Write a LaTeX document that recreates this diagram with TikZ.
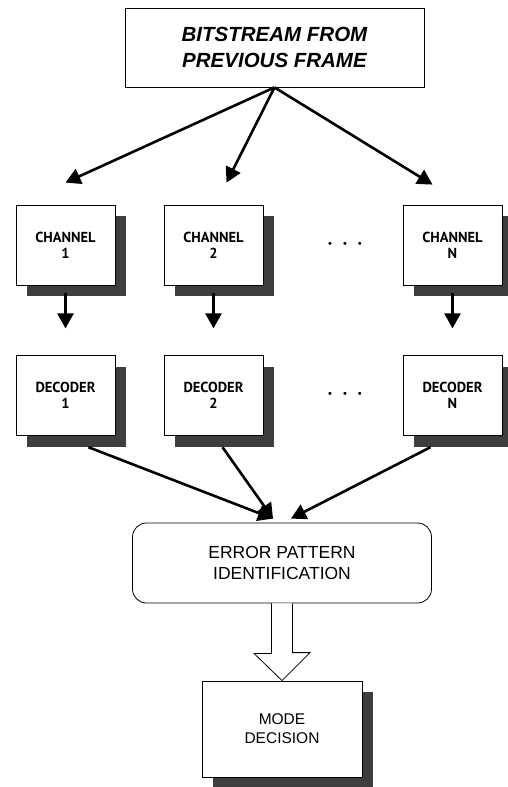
\documentclass[tikz,border=0pt]{standalone}
\usepackage{fontspec}
\setmainfont{Liberation Sans}
\newfontfamily\unitfont{PT Sans}
\usetikzlibrary{arrows.meta, positioning, shadows}
\definecolor{shadowgray}{RGB}{62, 62, 62}

\begin{document}
\begin{tikzpicture}[x=1pt, y=1pt,
    block/.style={rectangle, draw=black, fill=white, line width=0.8pt, align=center, inner sep=0pt},
    boxshadow/.style={drop shadow={shadow xshift=11pt, shadow yshift=-11pt, fill=shadowgray, opacity=1}},
    unit/.style={block, boxshadow, minimum width=99pt, minimum height=80pt, font=\unitfont\bfseries\fontsize{14.5}{16}\selectfont},
    line/.style={draw, line width=2.6pt, -{Triangle[length=15pt, width=16pt]}}]
    \useasboundingbox (0,0) rectangle (508,-787);

    \node [block, minimum width=299pt, minimum height=79pt, font=\bfseries\itshape\fontsize{20.5}{26}\selectfont] (bits) at (274.5,-47.5) {BITSTREAM FROM\\PREVIOUS FRAME};

    \node [unit] (ch1) at (65.5,-245) {CHANNEL\\1};
    \node [unit] (ch2) at (213.5,-245) {CHANNEL\\2};
    \node [unit] (chn) at (452.5,-245) {CHANNEL\\N};
    \node [font=\fontsize{11}{11}\selectfont] (dots1) at (345,-245) {\textbullet\hspace{11pt}\textbullet\hspace{11pt}\textbullet};

    \node [unit, below=70pt of ch1] (dec1) {DECODER\\1};
    \node [unit, below=70pt of ch2] (dec2) {DECODER\\2};
    \node [unit, below=70pt of chn] (decn) {DECODER\\N};
    \node [font=\fontsize{11}{11}\selectfont] (dots2) at (345,-395) {\textbullet\hspace{11pt}\textbullet\hspace{11pt}\textbullet};

    \node [block, rounded corners=14pt, minimum width=299pt, minimum height=80pt, font=\fontsize{17.5}{21}\selectfont] (err) at (282,-563) {ERROR PATTERN\\IDENTIFICATION};
    \node [block, boxshadow, minimum width=160pt, minimum height=96pt, font=\fontsize{15.5}{19}\selectfont] (mode) at (282,-729) {MODE\\DECISION};

    \path [line] (bits.south) -- ([yshift=22pt]ch1.north);
    \path [line] (bits.south) -- ([xshift=13pt,yshift=22pt]ch2.north);
    \path [line] (bits.south) -- ([xshift=-20pt,yshift=20pt]chn.north);

    \foreach \k in {1,2,n}
        \path [line] ([yshift=-8pt]ch\k.south) -- ([yshift=27pt]dec\k.north);

    \path [line] ([xshift=23pt,yshift=-11pt]dec1.south) -- ([xshift=-9pt,yshift=4pt]err.north);
    \path [line] ([xshift=9pt,yshift=-11pt]dec2.south) -- ([xshift=-9pt,yshift=4pt]err.north);
    \path [line] ([xshift=-22pt,yshift=-11pt]decn.south) -- ([xshift=9pt,yshift=4pt]err.north);

    \draw [line width=0.8pt, fill=white] ([xshift=-10.5pt]err.south) -- ++(0,-50) -- ++(-17.5,0) -- (mode.north) -- ++(28,28) -- ++(-17.5,0) -- ([xshift=10.5pt]err.south);
\end{tikzpicture}
\end{document}
